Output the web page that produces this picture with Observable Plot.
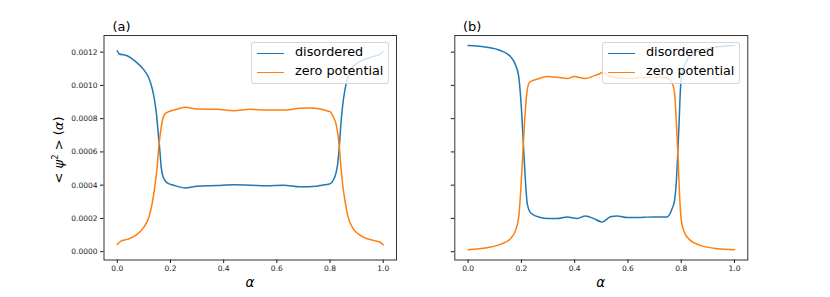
<!DOCTYPE html>
<html><head><meta charset="utf-8">
<script src="https://cdn.jsdelivr.net/npm/d3@7"></script>
<script src="https://cdn.jsdelivr.net/npm/@observablehq/plot@0.6"></script>
<style>
body{margin:0;background:#fff;}
#wrap{position:relative;width:830px;height:297px;overflow:hidden;font-family:"DejaVu Sans",sans-serif;background:#fff;}
#wrap svg.panel{position:absolute;top:0;}
.lbl{position:absolute;white-space:nowrap;color:#000;line-height:1;}
.legend{position:absolute;top:42px;width:136px;height:40px;background:rgba(255,255,255,0.8);border:1px solid rgba(204,204,204,0.8);border-radius:3px;font-size:12.8px;box-sizing:content-box;}
.legend .h{position:absolute;left:5px;width:27px;height:0;border-top:1.5px solid;}
.legend .t{position:absolute;left:43px;line-height:1;white-space:nowrap;}
</style>
</head><body>
<div id="wrap"></div>
<script>
// ---- data ----
const seriesNames = ["disordered", "zero potential"];
const seriesColors = ["#1f77b4", "#ff7f0e"];
const xTicks = [0, 0.2, 0.4, 0.6, 0.8, 1.0];
const yTicks = [0, 0.0002, 0.0004, 0.0006, 0.0008, 0.0010, 0.0012];
const panelTitles = ["(a)", "(b)"];

// panel (a) disordered
const aDisAlpha = [0, 0.006, 0.0375, 0.069, 0.1, 0.119, 0.131, 0.14, 0.147, 0.154, 0.16, 0.165, 0.172, 0.1875, 0.212, 0.256, 0.3, 0.375, 0.4375, 0.5, 0.5625, 0.625, 0.687, 0.75, 0.769, 0.793, 0.8, 0.812, 0.822, 0.829, 0.835, 0.84, 0.847, 0.856, 0.868, 0.887, 0.925, 0.962, 0.985, 1.0];
const aDisValue = [12.08e-4, 11.9e-4, 11.78e-4, 11.43e-4, 10.93e-4, 10.43e-4, 9.83e-4, 9.12e-4, 8.32e-4, 7.11e-4, 6.1e-4, 5.1e-4, 4.5e-4, 4.14e-4, 4.0e-4, 3.83e-4, 3.94e-4, 3.98e-4, 4.02e-4, 4.0e-4, 3.96e-4, 4.0e-4, 3.9e-4, 3.94e-4, 4.0e-4, 4.06e-4, 4.08e-4, 4.3e-4, 4.7e-4, 5.3e-4, 6.3e-4, 7.5e-4, 8.72e-4, 9.73e-4, 10.53e-4, 11.13e-4, 11.53e-4, 11.73e-4, 11.85e-4, 12.04e-4];
// panel (a) zero potential
const aZeroAlpha = [0, 0.0125, 0.0375, 0.069, 0.1, 0.119, 0.131, 0.141, 0.15, 0.156, 0.162, 0.17, 0.181, 0.2, 0.23, 0.256, 0.3, 0.375, 0.4375, 0.5, 0.56, 0.625, 0.687, 0.73, 0.762, 0.787, 0.8, 0.812, 0.822, 0.829, 0.835, 0.841, 0.847, 0.856, 0.868, 0.887, 0.925, 0.962, 0.987, 1.0];
const aZeroValue = [0.44e-4, 0.62e-4, 0.74e-4, 0.98e-4, 1.48e-4, 2.09e-4, 2.89e-4, 3.9e-4, 5.1e-4, 6.31e-4, 7.11e-4, 7.92e-4, 8.32e-4, 8.46e-4, 8.6e-4, 8.68e-4, 8.58e-4, 8.56e-4, 8.48e-4, 8.56e-4, 8.52e-4, 8.52e-4, 8.62e-4, 8.64e-4, 8.58e-4, 8.48e-4, 8.42e-4, 8.12e-4, 7.72e-4, 7.11e-4, 6.3e-4, 5.1e-4, 4.1e-4, 3.09e-4, 2.09e-4, 1.39e-4, 0.88e-4, 0.68e-4, 0.58e-4, 0.42e-4];
// panel (b) disordered
const bDisAlpha = [0, 0.071, 0.121, 0.159, 0.178, 0.19, 0.196, 0.202, 0.208, 0.215, 0.222, 0.235, 0.272, 0.297, 0.334, 0.372, 0.41, 0.44, 0.472, 0.497, 0.503, 0.534, 0.56, 0.597, 0.622, 0.66, 0.697, 0.747, 0.766, 0.775, 0.782, 0.787, 0.792, 0.797, 0.803, 0.816, 0.847, 0.91, 1.0];
const bDisValue = [12.4e-4, 12.3e-4, 12.1e-4, 11.73e-4, 11.23e-4, 10.53e-4, 9.53e-4, 8.12e-4, 6.3e-4, 4.3e-4, 2.89e-4, 2.33e-4, 2.05e-4, 1.99e-4, 1.99e-4, 2.09e-4, 2.0e-4, 2.15e-4, 1.99e-4, 1.8e-4, 1.78e-4, 2.1e-4, 2.15e-4, 2.05e-4, 2.05e-4, 2.07e-4, 2.09e-4, 2.09e-4, 2.59e-4, 3.09e-4, 4.3e-4, 5.9e-4, 7.72e-4, 9.73e-4, 10.73e-4, 11.33e-4, 11.94e-4, 12.24e-4, 12.4e-4];
// panel (b) zero potential
const bZeroAlpha = [0, 0.071, 0.121, 0.159, 0.178, 0.19, 0.196, 0.202, 0.208, 0.215, 0.222, 0.231, 0.259, 0.297, 0.334, 0.372, 0.397, 0.44, 0.472, 0.497, 0.503, 0.534, 0.597, 0.66, 0.722, 0.747, 0.766, 0.775, 0.782, 0.788, 0.793, 0.799, 0.809, 0.834, 0.872, 0.935, 1.0];
const bZeroValue = [0.12e-4, 0.24e-4, 0.44e-4, 0.78e-4, 1.28e-4, 2.09e-4, 3.29e-4, 4.9e-4, 6.71e-4, 8.52e-4, 9.73e-4, 10.19e-4, 10.37e-4, 10.53e-4, 10.49e-4, 10.41e-4, 10.53e-4, 10.41e-4, 10.57e-4, 10.73e-4, 10.79e-4, 10.53e-4, 10.41e-4, 10.47e-4, 10.49e-4, 10.43e-4, 10.13e-4, 9.53e-4, 7.72e-4, 5.7e-4, 3.7e-4, 2.09e-4, 1.28e-4, 0.68e-4, 0.38e-4, 0.18e-4, 0.12e-4];

// ---- build ----
function rows(xs, vs, s) { return xs.map((x, i) => ({alpha: x, value: vs[i], series: s})); }
const dataA = [...rows(aDisAlpha, aDisValue, seriesNames[0]), ...rows(aZeroAlpha, aZeroValue, seriesNames[1])];
const dataB = [...rows(bDisAlpha, bDisValue, seriesNames[0]), ...rows(bZeroAlpha, bZeroValue, seriesNames[1])];

function panel(data, ml, mr, showY) {
  const svg = Plot.plot({
    width: 415, height: 297,
    marginLeft: ml, marginRight: mr, marginTop: 35, marginBottom: 37.5,
    style: {fontFamily: "DejaVu Sans", fontSize: "7.5px", color: "#1a1a1a", background: "transparent", overflow: "visible"},
    x: {domain: [-0.05, 1.05]},
    y: {domain: [-0.00005, 0.0013]},
    color: {domain: seriesNames, range: seriesColors},
    marks: [
      Plot.axisX({ticks: xTicks, tickFormat: d3.format(".1f"), tickSize: 3.5, tickPadding: 2.5, label: null}),
      Plot.axisY({ticks: yTicks, tickFormat: showY ? d3.format(".4f") : () => "", tickSize: 3.5, tickPadding: 3, label: null}),
      Plot.line(data, {x: "alpha", y: "value", z: "series", stroke: "series", strokeWidth: 1.5, curve: "monotone-x"}),
      Plot.frame({stroke: "#333", strokeWidth: 1})
    ]
  });
  svg.classList.add("panel");
  return svg;
}

const wrap = document.getElementById("wrap");
const svgA = panel(dataA, 103.5, 19, true);
svgA.style.left = "0px";
const svgB = panel(dataB, 39.3, 82.7, false);
svgB.style.left = "415px";
wrap.appendChild(svgA);
wrap.appendChild(svgB);

function addLabel(html, css) {
  const d = document.createElement("div");
  d.className = "lbl";
  d.innerHTML = html;
  Object.assign(d.style, css);
  wrap.appendChild(d);
  return d;
}
// titles
addLabel(panelTitles[0], {left: "112.5px", top: "19.5px", fontSize: "13px"});
addLabel(panelTitles[1], {left: "463px", top: "19.5px", fontSize: "13px"});
// x labels
addLabel("<i>α</i>", {left: "250px", top: "283px", fontSize: "13.5px", transform: "translate(-50%,-50%)"});
addLabel("<i>α</i>", {left: "600.8px", top: "283px", fontSize: "13.5px", transform: "translate(-50%,-50%)"});
// y label
addLabel("&lt; <i>ψ</i><sup style='font-size:8.5px;vertical-align:5px'>2</sup> &gt; (<i>α</i>)", {left: "57.5px", top: "150px", fontSize: "13px", transform: "translate(-50%,-50%) rotate(-90deg)"});

// legends
function legend(left) {
  const box = document.createElement("div");
  box.className = "legend";
  box.style.left = left + "px";
  seriesNames.forEach((name, i) => {
    const h = document.createElement("div");
    h.className = "h";
    h.style.borderColor = seriesColors[i];
    h.style.top = (10 + i * 19.3) + "px";
    box.appendChild(h);
    const t = document.createElement("div");
    t.className = "t";
    t.textContent = name;
    t.style.top = (10 + i * 19.3 - 7.5) + "px";
    box.appendChild(t);
  });
  wrap.appendChild(box);
}
legend(251);
legend(602);
</script>
</body></html>
